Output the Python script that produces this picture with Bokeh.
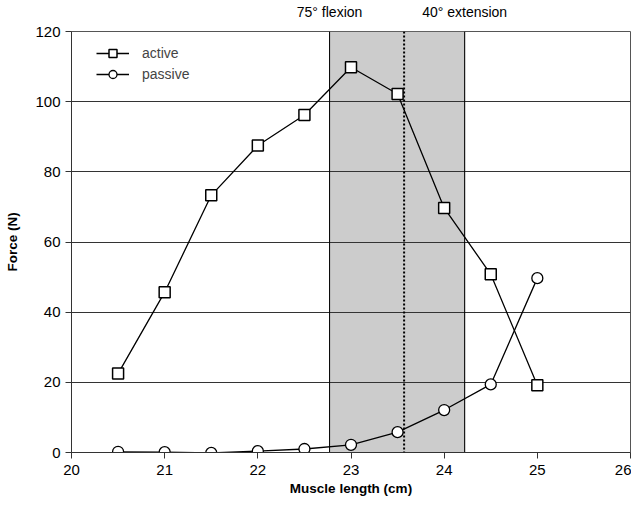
from bokeh.plotting import figure
from bokeh.models import BoxAnnotation, Span, Legend, LegendItem, Range1d, FixedTicker, LinearAxis
from bokeh.embed import file_html
from bokeh.resources import INLINE

muscle_length = [20.5, 21.0, 21.5, 22.0, 22.5, 23.0, 23.5, 24.0, 24.5, 25.0]
active_force = [22.5, 45.7, 73.3, 87.5, 96.2, 109.8, 102.2, 69.7, 50.8, 19.2]
passive_force = [0.2, 0.1, -0.1, 0.4, 1.0, 2.2, 5.8, 12.1, 19.4, 49.7]

flexion_length = 22.77
extension_length = 24.22
rest_length = 23.57
region_labels = ["75° flexion", "40° extension"]

x_ticks = [20, 21, 22, 23, 24, 25, 26]
y_ticks = [0, 20, 40, 60, 80, 100, 120]

FONT = "Liberation Sans"

p = figure(width=631, height=499, output_backend="svg", toolbar_location=None,
           x_range=Range1d(20, 26), y_range=Range1d(0, 120),
           min_border_left=71, min_border_right=1, min_border_top=30, min_border_bottom=47)
p.background_fill_color = "white"
p.border_fill_color = "white"
p.outline_line_color = "#555555"
p.outline_line_width = 1

p.xgrid.visible = False
p.ygrid.grid_line_color = "#333333"
p.ygrid.grid_line_width = 1
p.ygrid.level = "underlay"

p.xaxis.ticker = FixedTicker(ticks=x_ticks)
p.yaxis.ticker = FixedTicker(ticks=y_ticks)
for ax in (p.xaxis, p.yaxis):
    ax.axis_line_color = "#333333"
    ax.major_tick_line_color = "#333333"
    ax.major_tick_out = 6
    ax.major_tick_in = 0
    ax.minor_tick_line_color = None
    ax.major_label_text_font = FONT
    ax.major_label_text_font_size = "15px"
    ax.major_label_text_color = "black"
    ax.axis_label_text_font = FONT
    ax.axis_label_text_font_style = "bold"
    ax.axis_label_text_font_size = "13.5px"
    ax.axis_label_text_color = "black"
p.xaxis.axis_label = "Muscle length (cm)"
p.yaxis.axis_label = "Force (N)"
p.xaxis.axis_label_standoff = 3
p.yaxis.axis_label_standoff = 12
p.xaxis.major_label_standoff = 6
p.yaxis.major_label_standoff = 5

# region labels as a top axis
top_axis = LinearAxis(ticker=FixedTicker(ticks=[flexion_length, extension_length]),
                      major_label_overrides={flexion_length: region_labels[0],
                                             extension_length: region_labels[1]},
                      axis_line_color=None, major_tick_line_color=None,
                      minor_tick_line_color=None,
                      major_label_text_font=FONT, major_label_text_font_size="14px",
                      major_label_text_color="black", major_label_standoff=6)
p.add_layout(top_axis, "above")

box = BoxAnnotation(left=flexion_length, right=extension_length,
                    fill_color="#cccccc", fill_alpha=1.0,
                    line_color="black", line_width=1, level="image")
p.add_layout(box)
for edge in (flexion_length, extension_length):
    p.add_layout(Span(location=edge, dimension="height", line_color="black",
                      line_width=1, level="underlay"))

span = Span(location=rest_length, dimension="height", line_color="black",
            line_width=2, line_dash="2 2")
p.add_layout(span)

r1l = p.line(muscle_length, active_force, line_color="black", line_width=1.3)
r1m = p.scatter(muscle_length, active_force, marker="square", size=11,
                fill_color="white", line_color="black", line_width=1.5)
r2l = p.line(muscle_length, passive_force, line_color="black", line_width=1.3)
r2m = p.scatter(muscle_length, passive_force, marker="circle", size=11,
                fill_color="white", line_color="black", line_width=1.3)

legend = Legend(items=[LegendItem(label="active", renderers=[r1l, r1m]),
                       LegendItem(label="passive", renderers=[r2l, r2m])],
                location=(25, 368), border_line_color=None,
                background_fill_alpha=0.0,
                label_text_font=FONT, label_text_font_size="14px",
                glyph_width=33, glyph_height=20, spacing=1,
                margin=0, padding=0, label_standoff=13)
p.add_layout(legend)

open("out.html", "w").write(file_html(p, INLINE))
